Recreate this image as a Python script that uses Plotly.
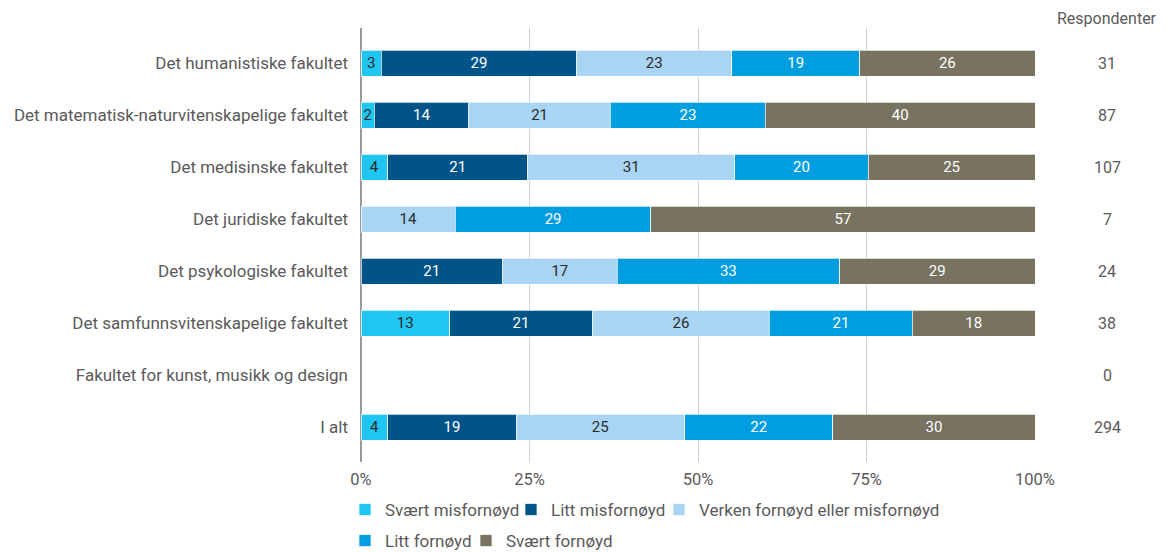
import plotly.graph_objects as go

# Faculties (top to bottom) and number of respondents per faculty
faculties = [
    "Det humanistiske fakultet",
    "Det matematisk-naturvitenskapelige fakultet",
    "Det medisinske fakultet",
    "Det juridiske fakultet",
    "Det psykologiske fakultet",
    "Det samfunnsvitenskapelige fakultet",
    "Fakultet for kunst, musikk og design",
    "I alt",
]
respondents = [31, 87, 107, 7, 24, 38, 0, 294]

# Share (%) per answer category, one list per series
svaert_misfornoyd = [3, 2, 4, 0, 0, 13, 0, 4]
litt_misfornoyd = [29, 14, 21, 0, 21, 21, 0, 19]
verken = [23, 21, 31, 14, 17, 26, 0, 25]
litt_fornoyd = [19, 23, 20, 29, 33, 21, 0, 22]
svaert_fornoyd = [26, 40, 25, 57, 29, 18, 0, 30]

FONT = "Roboto"
GREY = "#5a5a5a"
W, H = 1168, 552
M_L, M_R, M_T, M_B = 361, 133, 28, 90
PLOT_W = W - M_L - M_R
PLOT_H = H - M_T - M_B

# name, values, fill, label colour, legend box (left px, centre row px)
series = [
    ("Svært misfornøyd", svaert_misfornoyd, "#1fc6f1", "#2b2b2b", (345, 510)),
    ("Litt misfornøyd", litt_misfornoyd, "#005487", "#ffffff", (511, 510)),
    ("Verken fornøyd eller misfornøyd", verken, "#a9d4f3", "#2b2b2b", (659, 510)),
    ("Litt fornøyd", litt_fornoyd, "#009ee0", "#ffffff", (345, 541)),
    ("Svært fornøyd", svaert_fornoyd, "#777360", "#ffffff", (466, 541)),
]

fig = go.Figure()
legends = {}
for i, (name, vals, color, tcol, (lx, ly)) in enumerate(series):
    leg_id = "legend" if i == 0 else f"legend{i + 1}"
    fig.add_trace(go.Bar(
        name=name,
        y=faculties,
        x=vals,
        orientation="h",
        width=0.5,
        marker=dict(color=color, line=dict(color="rgba(255,255,255,0.7)", width=1)),
        text=[str(v) if v else "" for v in vals],
        texttemplate="%{text}",
        textposition="inside",
        insidetextanchor="middle",
        textangle=0,
        textfont=dict(family=FONT, size=15, color=tcol),
        legend=leg_id,
        hoverinfo="skip",
    ))
    legends[leg_id] = dict(
        orientation="h", xref="paper", yref="paper",
        x=(lx - M_L) / PLOT_W, xanchor="left",
        y=-(ly - (H - M_B)) / PLOT_H, yanchor="middle",
        font=dict(family=FONT, size=17, color=GREY), itemclick=False,
        itemwidth=30, bgcolor="rgba(0,0,0,0)",
    )

# Respondent counts in a column to the right of the bars
annotations = [dict(
    text="Respondenter", x=1.107, xanchor="center", y=1.023, yanchor="middle",
    xref="paper", yref="paper",
    showarrow=False, font=dict(family=FONT, size=16, color=GREY),
)]
for fac, n in zip(faculties, respondents):
    annotations.append(dict(
        text=str(n), x=1.107, xanchor="center", y=fac, xref="paper", yref="y",
        showarrow=False, font=dict(family=FONT, size=16, color=GREY),
    ))

pad = 9 / 52
fig.update_layout(
    width=W, height=H,
    margin=dict(l=M_L, r=M_R, t=M_T, b=M_B, autoexpand=False),
    paper_bgcolor="white", plot_bgcolor="white",
    barmode="stack", barnorm="percent",
    uniformtext=dict(minsize=15, mode="show"),
    font=dict(family=FONT, size=15, color=GREY),
    xaxis=dict(
        range=[0, 100], tickvals=[0, 25, 50, 75, 100],
        ticktext=["0%", "25%", "50%", "75%", "100%"],
        showgrid=True, gridcolor="#d0d0d0", gridwidth=1,
        zeroline=True, zerolinecolor="#9a9a9a", zerolinewidth=1.5,
        tickfont=dict(family=FONT, size=16.5, color=GREY),
        ticks="", ticklabelstandoff=5,
    ),
    yaxis=dict(
        categoryorder="array", categoryarray=faculties,
        autorange=False, range=[7.5 + pad, -0.5 - pad],
        showgrid=False, zeroline=False,
        tickfont=dict(family=FONT, size=17, color=GREY),
        ticks="", ticklabelstandoff=12,
    ),
    annotations=annotations,
    showlegend=True,
    **legends,
)

fig.write_html("out.html")
